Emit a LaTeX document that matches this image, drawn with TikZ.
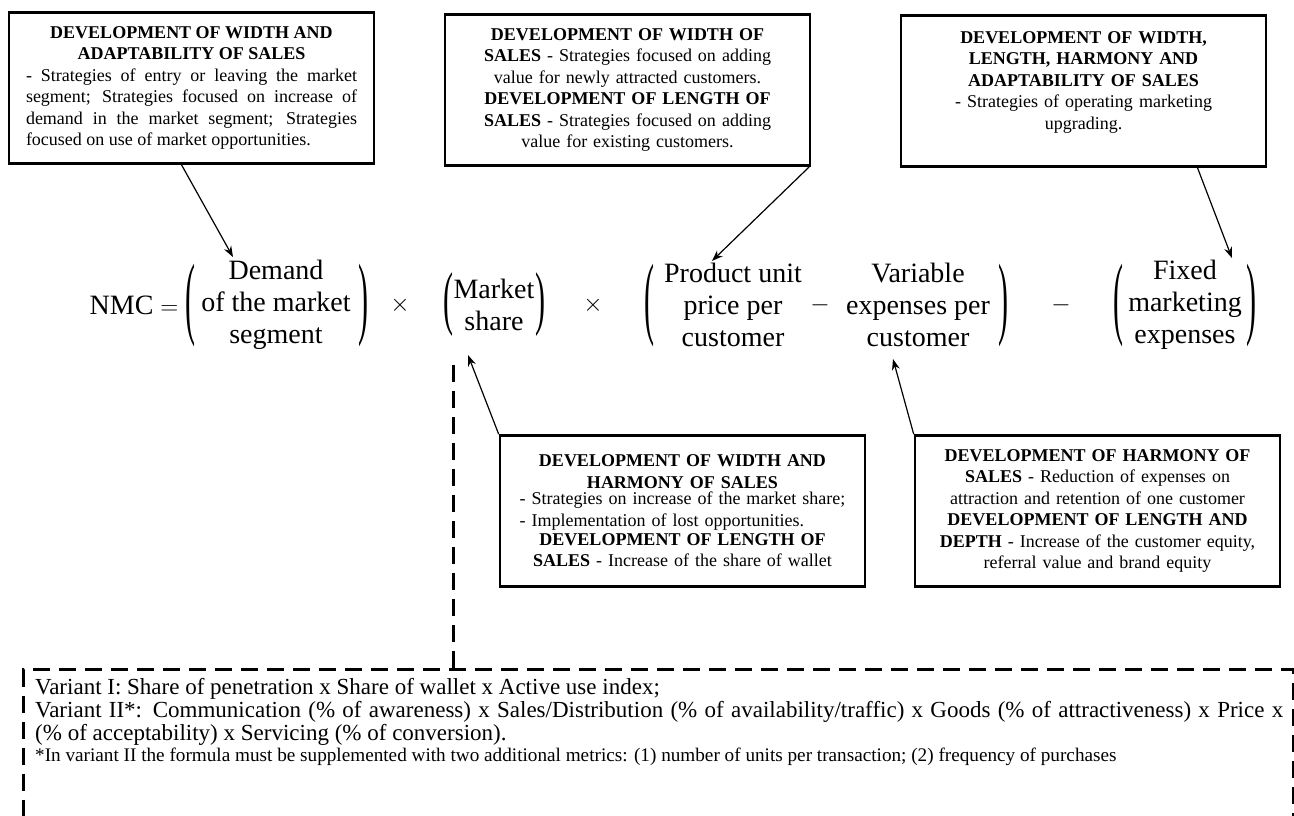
\documentclass[tikz,border=0pt]{standalone}
\usepackage{fontspec}
\setmainfont{Liberation Serif}
\usepackage{graphicx}
\usepackage{amsmath}
\usetikzlibrary{arrows.meta,positioning}

\newcommand{\eqlp}[1]{\scalebox{1}[#1]{(}}
\newcommand{\eqrp}[1]{\scalebox{1}[#1]{)}}

\tikzset{
  box/.style={draw, line width=2.6pt, minimum width=365pt, minimum height=151pt,
    text width=335pt, align=center, inner sep=0pt,
    font=\fontsize{18}{21.5}\selectfont},
  arr/.style={-{Stealth[length=11pt,width=8pt]}, line width=1.2pt},
  eqtext/.style={align=center, inner sep=0pt, font=\fontsize{28}{32}\selectfont},
  sym/.style={inner sep=0pt, font=\fontsize{28}{32}\selectfont},
  paren/.style={inner sep=0pt, font=\fontsize{30}{30}\selectfont},
  dashline/.style={line width=3pt, dash pattern=on 17pt off 9pt},
  varbox/.style={draw, dashline, minimum width=1270pt, minimum height=190pt, inner sep=0pt},
  vartext/.style={text width=1248pt, align=justify, inner sep=0pt,
    font=\fontsize{23}{23}\selectfont},
}

\begin{document}
\begin{tikzpicture}[x=1pt,y=-1pt]
  \useasboundingbox (0,0) rectangle (1294,816);

  % strategy boxes, upper row
  \node[box, text width=331pt, align=justify] (tl) at (191.5,88) {{\centering\bfseries DEVELOPMENT OF WIDTH AND\\ ADAPTABILITY OF SALES\par}- Strategies of entry or leaving the market\linebreak segment; Strategies focused on increase of\linebreak demand in the market segment; Strategies\linebreak focused on use of market opportunities.};
  \node[box] (tm) at (627.5,90) {{\bfseries DEVELOPMENT OF WIDTH OF\\ SALES} - Strategies focused on adding\\ value for newly attracted customers.\\ {\bfseries DEVELOPMENT OF LENGTH OF\\ SALES} - Strategies focused on adding\\ value for existing customers.};
  \node[box] (tr) at (1083.5,91) {{\bfseries DEVELOPMENT OF WIDTH,\\ LENGTH, HARMONY AND\\ ADAPTABILITY OF SALES}\\ - Strategies of operating marketing\\ upgrading.\\ \mbox{}};

  % the NMC formula
  \node[sym] (nmc) at (134,305) {NMC $=$};
  \node[paren] (demL) at (190,305) {\eqlp{3.05}};
  \node[eqtext] (dem) at (276,305) {Demand\\of the market\\segment};
  \node[paren] (demR) at (363,305) {\eqrp{3.05}};
  \node[sym] (x1) at (400,305) {$\times$};
  \node[paren] (shL) at (448,305) {\eqlp{2.35}};
  \node[eqtext] (sh) at (494,305) {Market\\share};
  \node[paren] (shR) at (540,305) {\eqrp{2.35}};
  \node[sym] (x2) at (593,305) {$\times$};
  \node[paren] (prL) at (649,305) {\eqlp{3.05}};
  \node[eqtext] (pu) at (733,305) {Product unit\\price per\\customer};
  \node[sym] (m1) at (820,305) {$-$};
  \node[eqtext] (ve) at (918,305) {Variable\\expenses per\\customer};
  \node[paren] (prR) at (1003,305) {\eqrp{3.05}};
  \node[sym] (m2) at (1061,305) {$-$};
  \node[paren] (fxL) at (1118,305) {\eqlp{3.05}};
  \node[eqtext] (fx) at (1185,305) {Fixed\\marketing\\expenses};
  \node[paren] (fxR) at (1251,305) {\eqrp{3.05}};

  % strategy boxes, lower row
  \node[box] (bl) at (682.5,511) {{\bfseries DEVELOPMENT OF WIDTH AND\\ HARMONY OF SALES}\\ \begin{tabular}{@{}l@{}}- Strategies on increase of the market share;\\ - Implementation of lost opportunities.\end{tabular}\\ {\bfseries DEVELOPMENT OF LENGTH OF\\ SALES} - Increase of the share of wallet};
  \node[box] (br) at (1097.5,511) {{\bfseries DEVELOPMENT OF HARMONY OF\\ SALES} - Reduction of expenses on\\ attraction and retention of one customer\\ {\bfseries DEVELOPMENT OF LENGTH AND\\ DEPTH} - Increase of the customer equity,\\ referral value and brand equity};

  % arrows
  \draw[arr] ([xshift=-10pt]tl.south) -- ([xshift=-43pt,yshift=3pt]dem.north);
  \draw[arr] ([xshift=-2pt]tm.south east) -- ([xshift=-21pt,yshift=2pt]pu.north);
  \draw[arr] ([xshift=114pt]tr.south) -- ([xshift=47pt,yshift=2pt]fx.north);
  \draw[arr] (bl.north west) -- ([xshift=-26pt,yshift=-24pt]sh.south);
  \draw[arr] (br.north west) -- ([xshift=-25pt,yshift=-12pt]ve.south);

  % variants of the market share
  \node[varbox, anchor=north west] (var) at (22,668) {};
  \coordinate (dashtop) at (453,365);
  \draw[dashline] (dashtop) -- (dashtop |- var.north);
  \node[vartext, anchor=north west] (vtxt) at ([xshift=13pt,yshift=-10pt]var.north west) {Variant I: Share of penetration x Share of wallet x Active use index;\\ Variant II*: Communication (\% of awareness) x Sales/Distribution (\% of availability/traffic) x Goods (\% of attractiveness) x Price x\linebreak (\% of acceptability) x Servicing (\% of conversion).\par
  {\fontsize{19.2}{21}\selectfont *In variant II the formula must be supplemented with two additional metrics: (1) number of units per transaction; (2) frequency of purchases\par}};
\end{tikzpicture}
\end{document}
